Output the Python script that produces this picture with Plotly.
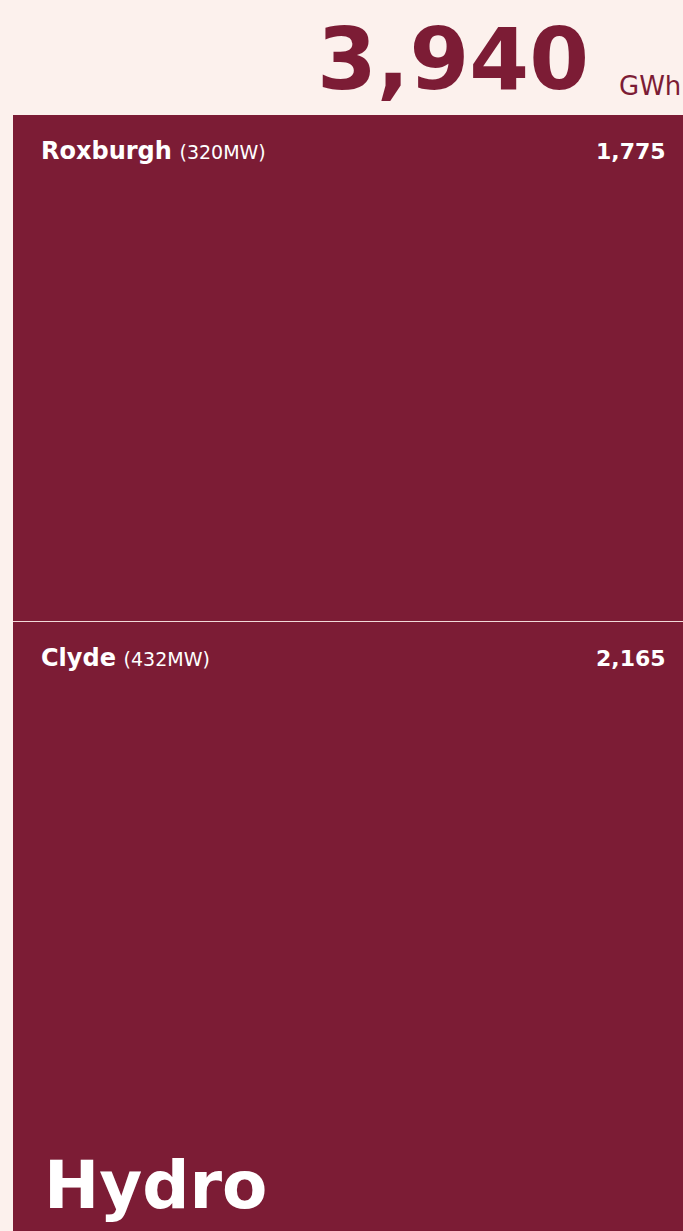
import plotly.graph_objects as go

# Data (stacked bottom -> top)
stations = ["Clyde", "Roxburgh"]
capacity_mw = [432, 320]
generation_gwh = [2165, 1775]
unit = "GWh"
category = "Hydro"

total = sum(generation_gwh)

BG = "#fcf1ed"
RED = "#7c1c35"
FONT = "DejaVu Sans, Verdana, sans-serif"

fig = go.Figure()
for name, val in zip(stations, generation_gwh):
    fig.add_trace(go.Bar(
        x=[0], y=[val], width=1, name=name,
        marker=dict(color=RED, line=dict(color="#f2d9d9", width=1)),
        hoverinfo="skip", showlegend=False,
    ))

annotations = []
cum = 0
for name, cap, val in zip(stations, capacity_mw, generation_gwh):
    top = cum + val
    cum = top
    annotations.append(dict(
        x=0.0388, xref="paper", y=top, yref="y", xanchor="left", yanchor="middle",
        yshift=-36, showarrow=False,
        text=f"<b>{name}</b> <span style='font-size:19px'>({cap}MW)</span>",
        font=dict(family=FONT, size=24, color="white"),
    ))
    annotations.append(dict(
        x=0.977, xref="paper", y=top, yref="y", xanchor="right", yanchor="middle",
        yshift=-36, showarrow=False,
        text=f"<b>{val:,}</b>",
        font=dict(family=FONT, size=22, color="white"),
    ))

annotations.append(dict(
    x=0.043, xref="paper", y=0.041, yref="paper", xanchor="left", yanchor="middle",
    showarrow=False, text=f"<b>{category}</b>",
    font=dict(family=FONT, size=66, color="white"),
))
annotations.append(dict(
    x=0.863, xref="paper", y=1.0505, yref="paper", xanchor="right", yanchor="middle",
    showarrow=False, text=f"<b>{total:,}</b>",
    font=dict(family=FONT, size=86, color=RED),
))
annotations.append(dict(
    x=1.0, xref="paper", y=1.026, yref="paper", xanchor="right", yanchor="middle",
    showarrow=False, text=unit,
    font=dict(family=FONT, size=26, color=RED),
))

fig.update_layout(
    width=683, height=1231,
    margin=dict(l=13, r=0, t=115, b=0),
    paper_bgcolor=BG, plot_bgcolor=BG,
    barmode="stack", bargap=0,
    xaxis=dict(range=[-0.5, 0.4985], visible=False, fixedrange=True),
    yaxis=dict(range=[33, total], visible=False, fixedrange=True),
    annotations=annotations,
    showlegend=False,
)

fig.write_html("out.html", config={"displayModeBar": False})
